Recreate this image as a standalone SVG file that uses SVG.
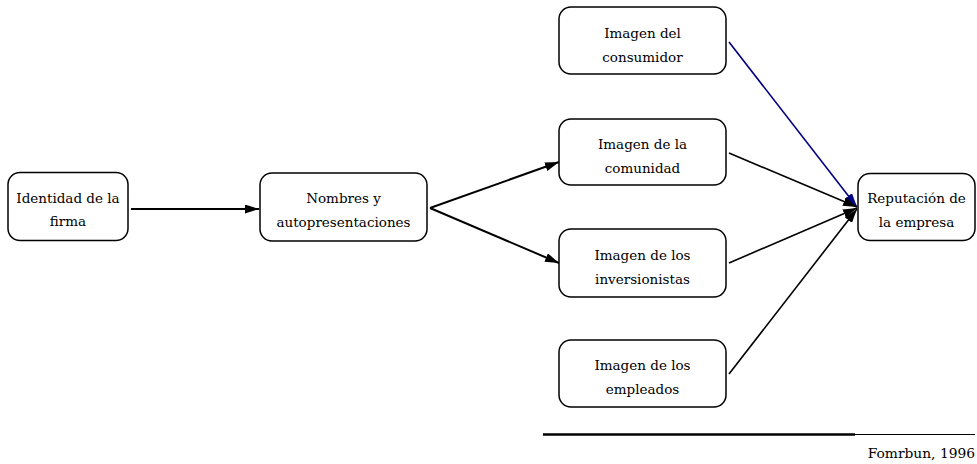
<svg xmlns="http://www.w3.org/2000/svg" width="977" height="464" viewBox="0 0 977 464">
  <defs>
    <marker id="head" markerUnits="userSpaceOnUse" markerWidth="15" markerHeight="9" refX="14" refY="4.5" orient="auto">
      <path d="M0,0 L14,4.5 L0,9 z" fill="#000"/>
    </marker>
    <marker id="head-blue" markerUnits="userSpaceOnUse" markerWidth="15" markerHeight="9" refX="14" refY="4.5" orient="auto">
      <path d="M0,0 L14,4.5 L0,9 z" fill="#000080"/>
    </marker>
    <style>
      .box { fill: #fff; stroke: #000; stroke-width: 1.5; }
      .lbl { font-family: "DejaVu Serif", serif; font-size: 13.5px; fill: #000; text-anchor: middle; }
      .src { font-family: "DejaVu Serif", serif; font-size: 13.8px; fill: #000; text-anchor: end; }
      .edge { fill: none; stroke: #000; stroke-width: 1.6; marker-end: url(#head); }
      .edge-bold { stroke-width: 2; }
      .edge-blue { stroke: #000080; marker-end: url(#head-blue); }
    </style>
  </defs>

  <rect width="977" height="464" fill="#fff"/>

  <g id="connectors">
    <line class="edge edge-bold" x1="131" y1="209" x2="259" y2="209"/>
    <line class="edge edge-bold" x1="430" y1="208" x2="559" y2="162"/>
    <line class="edge edge-bold" x1="430" y1="208" x2="559" y2="263"/>
    <line class="edge edge-blue" x1="729" y1="42" x2="857" y2="207"/>
    <line class="edge" x1="729" y1="153" x2="857" y2="207"/>
    <line class="edge" x1="729" y1="263" x2="857" y2="208"/>
    <line class="edge" x1="729" y1="374" x2="857" y2="209"/>
  </g>

  <g id="identidad">
    <rect class="box" x="8" y="172.5" width="120" height="68" rx="12"/>
    <text class="lbl" x="68" y="203">Identidad de la</text>
    <text class="lbl" x="68" y="226">firma</text>
  </g>

  <g id="nombres">
    <rect class="box" x="260" y="173" width="167" height="68" rx="12"/>
    <text class="lbl" x="343.5" y="203">Nombres y</text>
    <text class="lbl" x="343.5" y="227">autopresentaciones</text>
  </g>

  <g id="consumidor">
    <rect class="box" x="559" y="7" width="167" height="67" rx="12"/>
    <text class="lbl" x="642.5" y="38">Imagen del</text>
    <text class="lbl" x="642.5" y="62">consumidor</text>
  </g>

  <g id="comunidad">
    <rect class="box" x="559" y="119" width="167" height="66" rx="12"/>
    <text class="lbl" x="642.5" y="149">Imagen de la</text>
    <text class="lbl" x="642.5" y="173">comunidad</text>
  </g>

  <g id="inversionistas">
    <rect class="box" x="559" y="229" width="167" height="68" rx="12"/>
    <text class="lbl" x="642.5" y="260">Imagen de los</text>
    <text class="lbl" x="642.5" y="284">inversionistas</text>
  </g>

  <g id="empleados">
    <rect class="box" x="559" y="340" width="167" height="67" rx="12"/>
    <text class="lbl" x="642.5" y="370">Imagen de los</text>
    <text class="lbl" x="642.5" y="394">empleados</text>
  </g>

  <g id="reputacion">
    <rect class="box" x="858" y="173.5" width="117" height="67" rx="12"/>
    <text class="lbl" x="916.5" y="203">Reputación de</text>
    <text class="lbl" x="916.5" y="227">la empresa</text>
  </g>

  <g id="source">
    <line x1="543" y1="434.5" x2="855" y2="434.5" stroke="#000" stroke-width="2.5"/>
    <line x1="855" y1="434.5" x2="975" y2="434.5" stroke="#000" stroke-width="1"/>
    <text class="src" x="975" y="458">Fomrbun, 1996</text>
  </g>
</svg>
